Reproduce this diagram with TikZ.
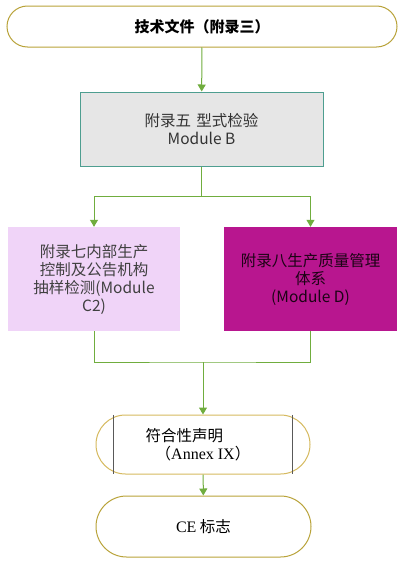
\documentclass[tikz,border=0pt]{standalone}
\usepackage{fontspec}
\setmainfont{Liberation Serif}
\newfontfamily\cjk{Noto Sans CJK SC}
\usetikzlibrary{arrows.meta,shapes.misc}
\definecolor{linegreen}{HTML}{70AD3E}
\definecolor{termgold}{HTML}{B9A33A}
\definecolor{declgold}{HTML}{D6BA60}
\definecolor{boxteal}{HTML}{4E9E90}
\definecolor{boxgray}{HTML}{E6E6E6}
\definecolor{lilac}{HTML}{F0D4F8}
\definecolor{magenta}{HTML}{B8168F}
\begin{document}
\begin{tikzpicture}[x=1pt,y=-1pt,
    every node/.style={font=\cjk\fontsize{15.5}{18}\selectfont, align=center, inner sep=0pt},
    term/.style={draw=termgold, line width=1pt, rounded rectangle},
    link/.style={draw=linegreen, line width=1pt},
    arr/.style={link, -{Triangle[width=8pt,length=7pt]}}]
  \useasboundingbox[fill=white] (0,0) rectangle (410,562);
  \node[term, minimum width=390pt, minimum height=41pt] (TechFile) at (202,26.5)
    {\fontsize{15}{18}\selectfont\bfseries 技术文件（附录三）};
  \node[draw=boxteal, fill=boxgray, line width=1pt, text=black!80,
    minimum width=243pt, minimum height=74pt] (ModB) at (201.5,129)
    {附录五\,\,型式检验\\Module B};
  \node[fill=lilac, text=black!75, minimum width=172pt, minimum height=104pt] (ModC) at (94,279)
    {附录七内部生产\\控制及公告机构\\抽样检测(Module\\C2)};
  \node[fill=magenta, text=black!85!magenta, minimum width=173pt, minimum height=104pt] (ModD) at (310.5,279)
    {附录八生产质量管理\\体系\\(Module D)};
  % declaration of conformity
  \node[term, draw=declgold, minimum width=214pt, minimum height=59pt] (DeclTerm) at (203,444.5) {};
  \node[minimum width=178pt, minimum height=59pt, align=left] (Decl) at (203,444.5)
    {\hspace*{-10pt}符合性声明\\ （{\rmfamily\fontsize{16}{18}\selectfont Annex IX}）};
  \draw[black!65, line width=1pt] (Decl.north west) -- (Decl.south west)
    (Decl.north east) -- (Decl.south east);
  \node[term, minimum width=215pt, minimum height=61pt] (CE) at (203.5,526.5)
    {{\rmfamily\fontsize{16}{18}\selectfont CE} 标志};
  \coordinate (fork) at (201.5,196);
  \coordinate (join) at (203,362);
  \draw[arr] (TechFile) -- (ModB);
  \draw[link] (ModB) -- (fork);
  \draw[arr] (fork) -| (ModC);
  \draw[arr] (fork) -| (ModD);
  \draw[link] (ModC) |- (join) -| (ModD);
  \draw[arr] (join) -- (DeclTerm);
  \draw[arr] (DeclTerm) -- (CE);
\end{tikzpicture}
\end{document}
